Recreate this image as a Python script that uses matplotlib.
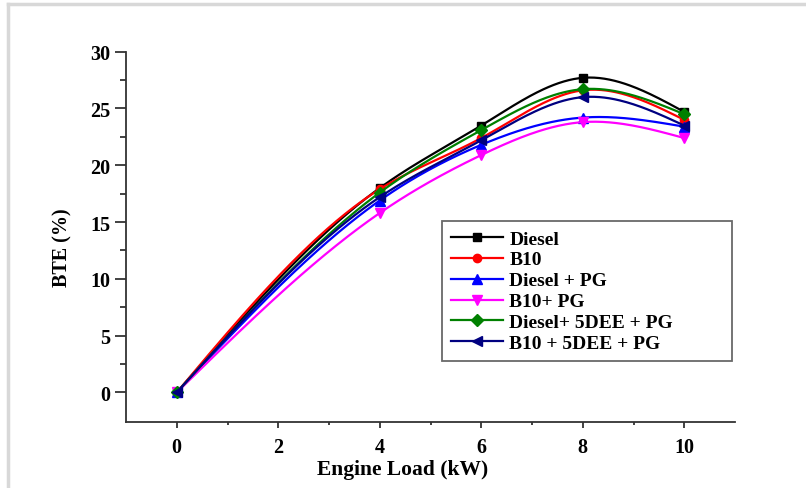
import numpy as np
import matplotlib
matplotlib.use("Agg")
import matplotlib.pyplot as plt
from matplotlib.lines import Line2D

load = [0, 4, 6, 8, 10]
diesel = [0, 18.0, 23.5, 27.7, 24.7]
b10 = [0, 17.9, 22.4, 26.6, 24.0]
diesel_pg = [0, 16.9, 21.8, 24.2, 23.4]
b10_pg = [0, 15.8, 20.9, 23.8, 22.4]
diesel_5dee_pg = [0, 17.6, 23.1, 26.7, 24.5]
b10_5dee_pg = [0, 17.2, 22.2, 26.0, 23.5]

labels = ["Diesel", "B10", "Diesel + PG", "B10+ PG", "Diesel+ 5DEE + PG", "B10 + 5DEE + PG"]
series = [diesel, b10, diesel_pg, b10_pg, diesel_5dee_pg, b10_5dee_pg]
colors = ["#000000", "#ff0000", "#0000ff", "#ff00ff", "#008000", "#000080"]
markers = ["s", "o", "^", "v", "D", "<"]
msizes = [6, 6, 7, 7, 6, 7]


def natural_spline(x, y, n=300):
    x = np.asarray(x, float)
    y = np.asarray(y, float)
    k = len(x)
    h = np.diff(x)
    A = np.zeros((k, k))
    b = np.zeros(k)
    A[0, 0] = 1
    A[-1, -1] = 1
    for i in range(1, k - 1):
        A[i, i - 1] = h[i - 1]
        A[i, i] = 2 * (h[i - 1] + h[i])
        A[i, i + 1] = h[i]
        b[i] = 6 * ((y[i + 1] - y[i]) / h[i] - (y[i] - y[i - 1]) / h[i - 1])
    M = np.linalg.solve(A, b)
    xs = np.linspace(x[0], x[-1], n)
    ys = np.empty_like(xs)
    for j, xv in enumerate(xs):
        i = min(np.searchsorted(x, xv, side="right") - 1, k - 2)
        t1 = x[i + 1] - xv
        t0 = xv - x[i]
        ys[j] = (M[i] * t1 ** 3 / (6 * h[i]) + M[i + 1] * t0 ** 3 / (6 * h[i])
                 + (y[i] / h[i] - M[i] * h[i] / 6) * t1
                 + (y[i + 1] / h[i] - M[i + 1] * h[i] / 6) * t0)
    return xs, ys


plt.rcParams["font.family"] = ["Liberation Serif", "DejaVu Serif"]
plt.rcParams["font.weight"] = "bold"

fig = plt.figure(figsize=(8.06, 4.89), dpi=100)
# light gray outer frame
fig.add_artist(plt.Line2D([8 / 806, 8 / 806], [0, 1 - 5 / 489], color="#d8d8d8", lw=2.5, transform=fig.transFigure))
fig.add_artist(plt.Line2D([8 / 806, 1], [1 - 5 / 489, 1 - 5 / 489], color="#d8d8d8", lw=2.5, transform=fig.transFigure))

ax = fig.add_axes([126 / 806, 1 - 423 / 489, (735 - 126) / 806, (423 - 52.7) / 489])

handles = []
for ys_data, lab, c, m, ms in zip(series, labels, colors, markers, msizes):
    xs, ys = natural_spline(load, ys_data)
    ax.plot(xs, ys, color=c, lw=1.6)
    ax.plot(load, ys_data, ls="none", marker=m, color=c, ms=ms)
    handles.append(Line2D([0], [0], color=c, lw=1.6, marker=m, ms=ms))

ax.set_xlim(-1, 11)
ax.set_ylim(-2.6, 30)
ax.set_xticks([0, 2, 4, 6, 8, 10])
ax.set_xticks([1, 3, 5, 7, 9], minor=True)
ax.set_yticks([0, 5, 10, 15, 20, 25, 30])
ax.set_yticks([2.5, 7.5, 12.5, 17.5, 22.5, 27.5], minor=True)
for s in ["top", "right"]:
    ax.spines[s].set_visible(False)
for s in ["left", "bottom"]:
    ax.spines[s].set_color("#333333")
    ax.spines[s].set_linewidth(1.3)
ax.tick_params(which="major", direction="out", width=1.3, color="#333333", labelsize=14.5, pad=4)
ax.tick_params(which="minor", direction="out", width=1.3, color="#333333")
ax.tick_params(axis="y", which="major", length=8, pad=3)
ax.tick_params(axis="y", which="minor", length=4.5)
ax.tick_params(axis="x", which="major", length=4.5, pad=6)
ax.tick_params(axis="x", which="minor", length=2.5)
for t in ax.get_xticklabels() + ax.get_yticklabels():
    t.set_fontweight("bold")

ax.set_xlabel("Engine Load (kW)", fontsize=15.5, fontweight="bold")
ax.xaxis.set_label_coords(0.455, -0.1)
ax.set_ylabel("BTE (%)", fontsize=14.5, fontweight="bold")
ax.yaxis.set_label_coords(-0.088, 0.473)

leg = ax.legend(handles, labels, loc="lower left", bbox_to_anchor=(0.519, 0.165, 0.476, 0.381),
                mode="expand", borderaxespad=0, handlelength=2.7, handletextpad=0.3, borderpad=0.45,
                labelspacing=0.17, fancybox=False, frameon=True,
                prop={"family": "Liberation Serif", "weight": "bold", "size": 14})
leg.get_frame().set_edgecolor("#444444")
leg.get_frame().set_linewidth(1.3)

fig.savefig("out.png", dpi=100)
